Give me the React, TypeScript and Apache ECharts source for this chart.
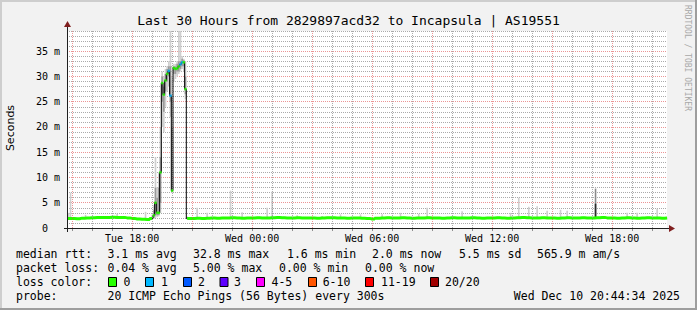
import React, { useEffect, useRef } from "react";
import * as echarts from "echarts";

// ---- time window (hours since Tue 00:00) ----
const T0 = 14 + 44 / 60 + 34 / 3600; // Tue 14:44:34
const T1 = T0 + 30; // Wed 20:44:34

// ---- median rtt (ms), 15-minute samples before the spike ----
const earlyStart = 14.75;
const baseStep = 0.25;
const earlyMedian = [1.9, 1.9, 1.85, 1.95, 2.0, 2.05, 2.1, 2.1, 2.1, 2.15, 2.1, 2.1, 2.0, 1.9, 1.8, 1.75, 1.7];

// ---- spike, 5-minute samples 19:00 .. 20:45 ----
const spikeStart = 19;
const spikeStep = 1 / 12;
const spikeMedian = [1.9, 2.5, 5.0, 3.0, 3.0, 11.0, 28.7, 26.4, 29.2, 30.5, 31.1, 26.2, 7.4, 31.7, 31.5, 31.6, 32.0, 32.4, 32.8, 32.8, 27.5, 1.9];
const spikeLoss = [0, 0, 0, 0, 0, 0, 0, 0, 0, 0, 1, 1, 0, 0, 0, 0, 0, 1, 1, 0, 0, 0];
const spikeSmokeLo = [1.7, 1.8, 2.0, 2.2, 2.3, 3.0, 20.0, 19.0, 24.0, 27.0, 28.0, 22.0, 7.0, 29.0, 29.5, 30.0, 30.5, 31.0, 31.5, 31.0, 25.5, 1.7];
const spikeSmokeHi = [2.6, 4.5, 14.0, 8.0, 11.0, 20.0, 31.0, 30.0, 31.5, 32.0, 33.0, 39.0, 30.0, 32.5, 32.5, 33.0, 39.0, 39.0, 34.0, 33.5, 33.0, 2.3];
const spikeCoreLo = [1.8, 2.0, 2.5, 2.5, 2.6, 5.0, 25.0, 23.0, 27.0, 29.0, 30.0, 25.0, 7.2, 30.5, 30.5, 31.0, 31.0, 31.5, 32.0, 32.0, 26.5, 1.8];
const spikeCoreHi = [2.2, 3.5, 8.0, 6.0, 8.0, 14.0, 30.0, 28.0, 30.5, 31.5, 32.0, 32.0, 20.0, 32.0, 32.0, 32.5, 33.0, 33.0, 33.5, 33.2, 30.0, 2.1];

// ---- median rtt (ms), 15-minute samples after the spike (Tue 21:00 .. Wed 20:45) ----
const lateStart = 21;
const lateMedian = [
  1.9, 1.95, 1.9, 1.95, 2.0, 1.95, 2.0, 2.0, 2.05, 2.0, 1.95, 2.0,
  2.0, 2.05, 2.0, 2.0, 2.05, 2.1, 2.05, 2.0, 2.0, 2.05, 2.0, 2.0,
  2.0, 1.95, 2.0, 2.05, 2.05, 2.0, 2.0, 1.95, 2.0, 2.0, 1.95, 1.9,
  1.8, 1.95, 2.0, 2.05, 2.0, 2.0, 2.05, 2.0, 1.95, 2.0, 2.0, 2.05,
  2.0, 2.0, 1.95, 2.0, 2.05, 2.0, 2.0, 2.0, 2.05, 2.0, 1.95, 2.0,
  2.0, 2.05, 2.0, 1.95, 2.0, 2.05, 2.1, 2.05, 2.0, 2.0, 2.05, 2.0,
  2.0, 1.95, 2.0, 2.05, 2.0, 2.0, 2.05, 2.0, 2.0, 2.05, 2.1, 2.0,
  2.0, 1.95, 2.0, 2.05, 2.0, 1.95, 2.0, 2.05, 2.0, 2.0, 1.95, 2.0,
];

// ---- isolated smoke blips (single 5-minute samples) ----
const blipHours = [14.83, 14.92, 15.67, 17.25, 18.67, 21.25, 21.75, 22.92, 23.5, 24.75, 25.0, 26.25, 27.5, 28.42, 29.42, 30.5, 31.42, 32.33, 32.75, 34.5, 36.92, 37.33, 37.83, 38.25, 38.75, 39.42, 39.75, 42.75, 43.25, 44.25];
const blipTops = [3.0, 7.0, 2.6, 2.8, 3.2, 4.0, 3.0, 7.4, 3.1, 4.0, 7.2, 2.5, 2.4, 2.7, 2.7, 2.7, 3.0, 2.8, 4.0, 3.3, 3.0, 6.0, 4.2, 4.3, 3.4, 3.6, 3.4, 3.0, 3.0, 3.8];
const blipBase = 1.8;
const darkBlipHours = [41.17];
const darkBlipLo = [1.9];
const darkBlipHi = [7.8];
const darkBlipCoreHi = [4.8];

// ---- axis / legend texts ----
const xLabelHours = [18, 24, 30, 36, 42];
const xTickHours = [15, 16, 17, 18, 19, 20, 21, 22, 23, 24, 25, 26, 27, 28, 29, 30, 31, 32, 33, 34, 35, 36, 37, 38, 39, 40, 41, 42, 43, 44];
const yMax = 39;
const titleText = "Last 30 Hours from 2829897acd32 to Incapsula | AS19551";
const rttStats = ["3.1 ms avg", "32.8 ms max", "1.6 ms min", "2.0 ms now", "5.5 ms sd", "565.9 m am/s"];
const lossStats = ["0.04 % avg", "5.00 % max", "0.00 % min", "0.00 % now"];
const lossLabels = ["0", "1", "2", "3", "4-5", "6-10", "11-19", "20/20"];
const lossColors = ["#26ff00", "#00b8ff", "#0059ff", "#5e00ff", "#ff00ff", "#ff5500", "#ff0000", "#a10000"];
const probeText = "20 ICMP Echo Pings (56 Bytes) every 300s";
const stampText = "Wed Dec 10 20:44:34 2025";

const MONO = '"DejaVu Sans Mono", monospace';
const MAJOR = "rgba(222,79,79,0.6)";
const MINOR = "rgba(143,143,143,0.75)";

function fmtHour(v: number) {
  const day = v < 24 ? "Tue" : "Wed";
  const h = ((v % 24) + 24) % 24;
  return `${day} ${String(h).padStart(2, "0")}:00`;
}

function buildOption() {
  const early = earlyMedian.map((v, i) => [earlyStart + i * baseStep, v]);
  const spike = spikeMedian.map((v, i) => [spikeStart + i * spikeStep, v]);
  const late = lateMedian.map((v, i) => [lateStart + i * baseStep, v]);
  const green: any[] = [...early, spike[0], null, spike[spike.length - 1], ...late];

  const half = spikeStep / 2;
  const blipHalf = 0.04;
  const outer: number[][] = [];
  const core: number[][] = [];
  spikeMedian.forEach((_, i) => {
    const t = spikeStart + i * spikeStep;
    outer.push([t, spikeSmokeLo[i], spikeSmokeHi[i], half]);
    core.push([t, spikeCoreLo[i], spikeCoreHi[i], half]);
  });
  blipHours.forEach((t, i) => outer.push([t, blipBase, blipTops[i], blipHalf]));
  const darkOuter = darkBlipHours.map((t, i) => [t, darkBlipLo[i], darkBlipHi[i], blipHalf]);
  const darkCore = darkBlipHours.map((t, i) => [t, darkBlipLo[i], darkBlipCoreHi[i], blipHalf]);

  const rectSeries = (data: number[][], fill: string, z: number) => ({
    type: "custom",
    z,
    silent: true,
    data,
    renderItem: (_p: any, api: any) => {
      const t = api.value(0);
      const lo = api.value(1);
      const hi = Math.min(api.value(2), yMax);
      const hw = api.value(3);
      const a = api.coord([t - hw, hi]);
      const b = api.coord([t + hw, lo]);
      return {
        type: "rect",
        shape: { x: a[0], y: a[1], width: Math.max(1, b[0] - a[0]), height: b[1] - a[1] },
        style: { fill },
      };
    },
  });

  const vGrid: any[] = [];
  for (let h = Math.ceil(T0); h <= Math.floor(T1); h++) {
    vGrid.push({ xAxis: h, lineStyle: { color: h % 3 === 0 ? MAJOR : MINOR, type: [1, 1], width: 1 } });
  }

  const text = (t: string, x: number, y: number, extra: any = {}) => ({
    type: "text",
    x,
    y,
    style: { text: t, font: `11.5px ${MONO}`, fill: "#000", verticalAlign: "middle", align: "left", ...extra },
  });

  const rows = [254, 268, 282, 296];
  const rttX = [107.5, 193, 287, 372, 459, 537];
  const lossX = [107.5, 193, 279, 365];
  const boxX = [108, 145, 183, 219.5, 256, 308, 365, 430];
  const boxLabelX = [123.5, 161, 198, 234, 271.5, 322.7, 381, 445];

  const graphics: any[] = [
    // 3D frame
    { type: "rect", shape: { x: 0, y: 0, width: 697, height: 2 }, style: { fill: "#cecece" } },
    { type: "rect", shape: { x: 0, y: 0, width: 2, height: 310 }, style: { fill: "#cecece" } },
    { type: "rect", shape: { x: 0, y: 308, width: 697, height: 2 }, style: { fill: "#9e9e9e" } },
    { type: "rect", shape: { x: 695, y: 0, width: 2, height: 310 }, style: { fill: "#9e9e9e" } },
    // title
    {
      type: "text",
      x: 348.5,
      y: 20,
      style: { text: titleText, font: `13px ${MONO}`, fill: "#000", align: "center", verticalAlign: "middle" },
    },
    // unit label
    {
      type: "text",
      x: 10,
      y: 128,
      rotation: Math.PI / 2,
      style: { text: "Seconds", font: '11px "DejaVu Sans", sans-serif', fill: "#000", align: "center", verticalAlign: "middle" },
    },
    // watermark
    {
      type: "text",
      x: 687,
      y: 5,
      rotation: -Math.PI / 2,
      style: { text: "RRDTOOL / TOBI OETIKER", font: `8px ${MONO}`, fill: "#a8a8a8", align: "left", verticalAlign: "middle" },
    },
    // axes
    { type: "line", z: 50, shape: { x1: 64, y1: 228.5, x2: 670, y2: 228.5 }, style: { stroke: "#1f1f1f", lineWidth: 1 } },
    { type: "polygon", z: 50, shape: { points: [[669, 225], [675, 228.5], [669, 232]] }, style: { fill: "#801f1f" } },
    { type: "line", z: 50, shape: { x1: 67.5, y1: 232, x2: 67.5, y2: 26 }, style: { stroke: "#1f1f1f", lineWidth: 1 } },
    { type: "polygon", z: 50, shape: { points: [[64, 27], [67.5, 21], [71, 27]] }, style: { fill: "#801f1f" } },
    // legend
    text("median rtt:", 16, rows[0]),
    ...rttStats.map((s, i) => text(s, rttX[i], rows[0])),
    text("packet loss:", 16, rows[1]),
    ...lossStats.map((s, i) => text(s, lossX[i], rows[1])),
    text("loss color:", 16, rows[2]),
    ...lossColors.map((c, i) => ({
      type: "rect",
      shape: { x: boxX[i] + 0.5, y: rows[2] - 4.5, width: 8, height: 9 },
      style: { fill: c, stroke: "#000", lineWidth: 1 },
    })),
    ...lossLabels.map((s, i) => text(s, boxLabelX[i], rows[2])),
    text("probe:", 16, rows[3]),
    text(probeText, 107.5, rows[3]),
    text(stampText, 680, rows[3], { align: "right" }),
  ];

  return {
    animation: false,
    backgroundColor: "#f2f2f2",
    grid: { left: 67, right: 30, top: 31, bottom: 82, show: true, backgroundColor: "#ffffff", borderWidth: 0 },
    xAxis: {
      type: "value",
      min: T0,
      max: T1,
      axisLine: { show: false },
      splitLine: { show: false },
      axisTick: { show: true, customValues: xTickHours, length: 3, lineStyle: { color: "#8f8f8f" } },
      axisLabel: {
        customValues: xLabelHours,
        formatter: (v: number) => fmtHour(Math.round(v)),
        fontFamily: MONO,
        fontSize: 10,
        color: "#000",
        margin: 5,
      },
    },
    yAxis: {
      type: "value",
      min: 0,
      max: yMax,
      interval: 1,
      axisLine: { show: false },
      axisTick: { show: false },
      axisLabel: {
        formatter: (v: number) => (Math.round(v) % 5 !== 0 || v > 35 ? "" : v === 0 ? "0\u00a0\u00a0" : `${v} m`),
        fontFamily: MONO,
        fontSize: 10,
        color: "#000",
        margin: 7,
      },
      splitLine: { show: true, lineStyle: { color: [MAJOR, MINOR, MINOR, MINOR, MINOR], type: [1, 1], width: 1 } },
    },
    series: [
      {
        type: "line",
        z: 1,
        data: [],
        silent: true,
        markLine: { silent: true, symbol: ["none", "none"], label: { show: false }, animation: false, data: vGrid },
      },
      rectSeries(outer, "#cfcfcf", 2),
      rectSeries(core, "#9a9a9a", 2),
      rectSeries(darkOuter, "#8a8a8a", 2),
      rectSeries(darkCore, "#2a2a2a", 2),
      {
        type: "line",
        z: 3,
        step: "middle",
        symbol: "none",
        silent: true,
        data: spike,
        lineStyle: { color: "#000", width: 1 },
      },
      {
        type: "line",
        z: 4,
        step: "middle",
        symbol: "none",
        silent: true,
        connectNulls: false,
        data: green,
        lineStyle: { color: "#26ff00", width: 3 },
      },
      {
        type: "scatter",
        z: 5,
        silent: true,
        symbol: "rect",
        symbolSize: [2.5, 2.5],
        data: spike.slice(1, -1),
        itemStyle: { color: (p: any) => lossColors[spikeLoss[p.dataIndex + 1]] },
      },
    ],
    graphic: graphics,
  };
}

export default function App() {
  const ref = useRef<HTMLDivElement>(null);
  useEffect(() => {
    if (!ref.current) return;
    const chart = echarts.init(ref.current, undefined, { renderer: "svg" });
    chart.setOption(buildOption() as any);
    return () => chart.dispose();
  }, []);
  return <div ref={ref} style={{ position: "absolute", left: 0, top: 0, width: 697, height: 310 }} />;
}
